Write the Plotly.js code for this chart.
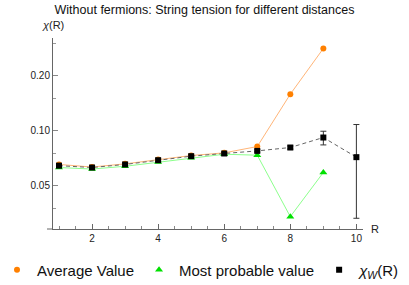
<!DOCTYPE html>
<html><head><meta charset="utf-8">
<script src="https://cdn.plot.ly/plotly-3.0.1.min.js"></script>
<style>html,body{margin:0;padding:0;background:#fff}#c{width:409px;height:285px}</style>
</head><body><div id="c"></div>
<script>
const R = [1,2,3,4,5,6,7,8,9,10];
const R9 = [1,2,3,4,5,6,7,8,9];
const averageValue = [0.0655,0.0634,0.0660,0.0697,0.0733,0.0758,0.0821,0.159,0.283];
const mostProbable = [0.0630,0.0618,0.0640,0.0675,0.0712,0.0745,0.0736,0.0339,0.0592];
const chiW = [0.0645,0.0630,0.0655,0.0691,0.0727,0.0752,0.0777,0.0811,0.0920,0.0718];
const chiWErrPlus = [0.0012,0.0012,0.0012,0.0012,0.0012,0.0012,0.0012,0.0016,0.0076,0.0366];
const chiWErrMinus = [0.0012,0.0012,0.0012,0.0012,0.0012,0.0012,0.0012,0.0016,0.0082,0.0386];
const yTickVals = [0.05,0.10,0.20];
const yTickText = ['0.05','0.10','0.20'];
const yMinorVals = [0.0375,0.075,0.15,0.3];
const xTickVals = [2,4,6,8,10];

const FONT = 'Liberation Sans, Arial, sans-serif';
// plot-area geometry (px)
const L = 53, PW = 310, GW = 409 - L, T = 38, B = 56, PH = 285 - T - B;
const px = v => (v - L) / GW;        // page x -> paper x
const py = v => (285 - B - v) / PH;  // page y -> paper y

const traces = [
  {x:R9, y:averageValue, type:'scatter', mode:'lines', showlegend:false, hoverinfo:'skip',
   line:{color:'#ffb578', width:1}},
  {x:R9, y:mostProbable, type:'scatter', mode:'lines', showlegend:false, hoverinfo:'skip',
   line:{color:'#8cff8c', width:1}},
  {x:R, y:chiW, type:'scatter', mode:'lines', showlegend:false, hoverinfo:'skip',
   line:{color:'#666', width:1, dash:'4px,3px'}},
  {x:R9, y:averageValue, name:'Average Value', type:'scatter', mode:'markers',
   marker:{color:'#ff8000', size:6, symbol:'circle'}},
  {x:R9, y:mostProbable, name:'Most probable value', type:'scatter', mode:'markers',
   marker:{color:'#00e000', size:7, symbol:'triangle-up'}},
  {x:R, y:chiW, name:'<i>χ</i><sub><i>W</i></sub>(R)', type:'scatter', mode:'markers',
   marker:{color:'#000', size:6, symbol:'square'},
   error_y:{type:'data', symmetric:false, array:chiWErrPlus, arrayminus:chiWErrMinus,
            color:'#333', thickness:1, width:3}}
];
const layout = {
  width:409, height:285,
  margin:{l:L, r:0, t:T, b:B, autoexpand:false},
  paper_bgcolor:'#fff', plot_bgcolor:'#fff',
  font:{family:FONT, color:'#222', size:10},
  title:{text:'Without fermions: String tension for different distances', x:0.5, xanchor:'center',
         xref:'container', y:1-10/285, yanchor:'middle', font:{family:FONT, size:12.5, color:'#111'}},
  xaxis:{domain:[0, PW/GW], range:[0.818,10.2], showgrid:false, zeroline:false, showline:true,
         linecolor:'#666', linewidth:1,
         ticks:'inside', ticklen:5, tickcolor:'#666', tickvals:xTickVals, tickfont:{size:10, color:'#222'},
         minor:{dtick:0.5, tick0:0, ticks:'inside', ticklen:3, tickcolor:'#888'}},
  yaxis:{type:'log', range:[Math.log10(0.029), Math.log10(0.323)], showgrid:false, zeroline:false,
         showline:true, linecolor:'#666', linewidth:1, ticks:'inside', ticklen:5, tickcolor:'#888',
         tickvals:yTickVals, ticktext:yTickText, tickfont:{size:10, color:'#222'},
         minor:{tickvals:yMinorVals, ticks:'inside', ticklen:3, tickcolor:'#999'}},
  showlegend:true,
  legend:{orientation:'h', x:px(-3), xanchor:'left', y:py(270), yanchor:'middle',
          font:{family:FONT, size:15, color:'#111'}, bgcolor:'rgba(0,0,0,0)', itemwidth:30},
  annotations:[
    {text:'<i>χ</i>(R)', xref:'paper', yref:'paper', x:px(53), y:py(25), xanchor:'center', yanchor:'middle',
     showarrow:false, font:{family:FONT, size:11, color:'#222'}},
    {text:'R', xref:'paper', yref:'paper', x:px(375), y:py(229), xanchor:'center', yanchor:'middle',
     showarrow:false, font:{family:FONT, size:11, color:'#222'}}
  ],
  shapes:[
    {type:'line', xref:'paper', yref:'paper', x0:px(47), x1:px(53), y0:0, y1:0, line:{color:'#666', width:1}}
  ]
};
Plotly.newPlot('c', traces, layout, {displayModeBar:false, staticPlot:true});
</script></body></html>
